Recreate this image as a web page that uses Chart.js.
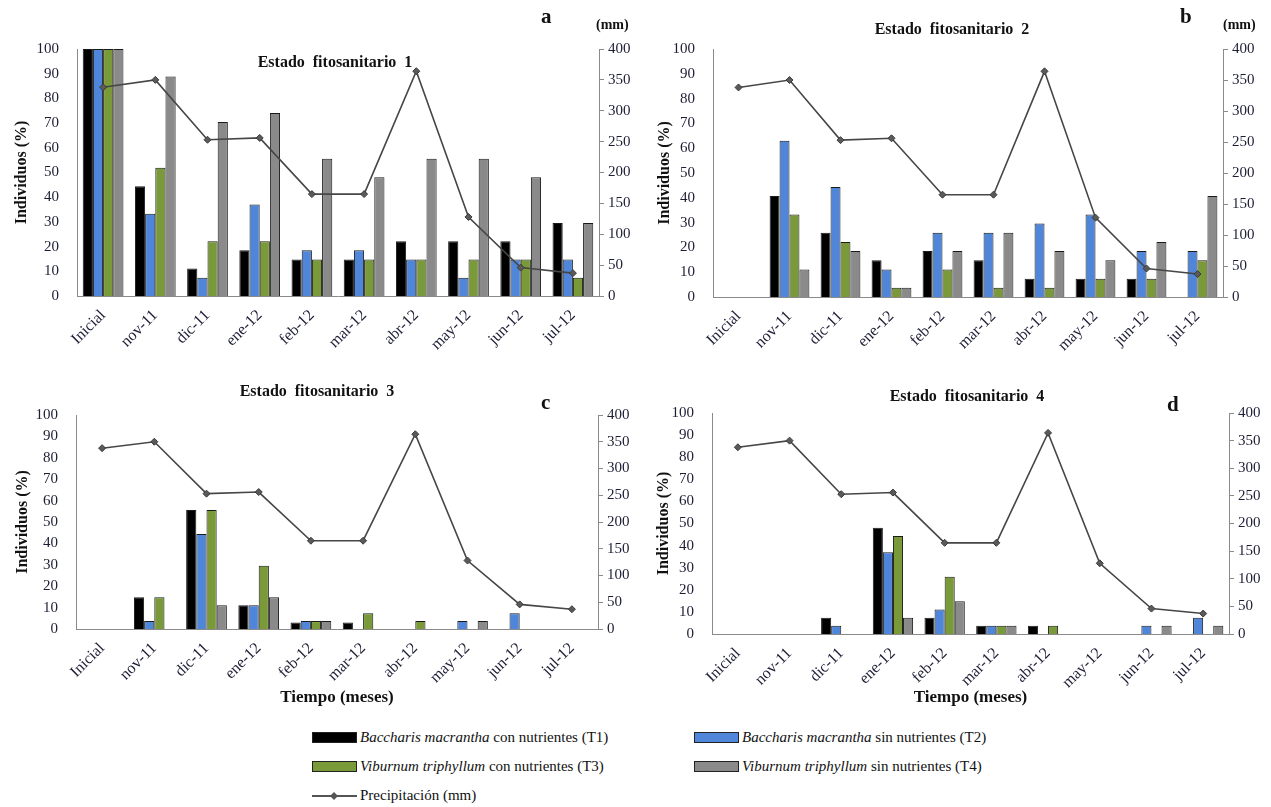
<!DOCTYPE html>
<html>
<head>
<meta charset="utf-8">
<title>Estado fitosanitario</title>
<script src="https://cdn.jsdelivr.net/npm/chart.js@4"></script>
<style>
  body { margin: 0; background: #fff; font-family: "Liberation Serif", "Times New Roman", serif; }
  #wrap { position: relative; width: 1271px; height: 807px; overflow: hidden; }
  .box { position: absolute; }
  .lbl { position: absolute; font-weight: bold; color: #111; white-space: pre; }
  .ttl { font-size: 16px; transform: translateX(-50%); }
  .let { font-size: 21px; }
  .mm  { font-size: 14px; }
  .leg { position: absolute; font-size: 15px; color: #111; white-space: nowrap; display: flex; align-items: center; }
  .sw  { width: 43px; height: 9px; border: 1px solid #222; margin-right: 3px; }
</style>
</head>
<body>
<div id="wrap">
  <div class="box" style="left:0;top:0;width:640px;height:370px"><canvas id="chartA"></canvas></div>
  <div class="box" style="left:640px;top:0;width:631px;height:370px"><canvas id="chartB"></canvas></div>
  <div class="box" style="left:0;top:375px;width:640px;height:337px"><canvas id="chartC"></canvas></div>
  <div class="box" style="left:640px;top:375px;width:631px;height:337px"><canvas id="chartD"></canvas></div>

  <div class="lbl ttl" style="left:335px;top:53px">Estado  fitosanitario  1</div>
  <div class="lbl ttl" style="left:952px;top:20px">Estado  fitosanitario  2</div>
  <div class="lbl ttl" style="left:317px;top:382px">Estado  fitosanitario  3</div>
  <div class="lbl ttl" style="left:967px;top:387px">Estado  fitosanitario  4</div>

  <div class="lbl let" style="left:541px;top:4px">a</div>
  <div class="lbl let" style="left:1180px;top:4px">b</div>
  <div class="lbl let" style="left:541px;top:390px">c</div>
  <div class="lbl let" style="left:1167px;top:392px">d</div>
  <div class="lbl mm" style="left:596px;top:17px">(mm)</div>
  <div class="lbl mm" style="left:1223px;top:17px">(mm)</div>

  <div class="leg" style="left:312px;top:729px"><span class="sw" style="background:#000"></span><i>Baccharis macrantha</i>&nbsp;con nutrientes (T1)</div>
  <div class="leg" style="left:694px;top:729px"><span class="sw" style="background:#4f86d9"></span><i>Baccharis macrantha</i>&nbsp;sin nutrientes (T2)</div>
  <div class="leg" style="left:312px;top:758px"><span class="sw" style="background:#7a9a3a"></span><i>Viburnum triphyllum</i>&nbsp;con nutrientes (T3)</div>
  <div class="leg" style="left:694px;top:758px"><span class="sw" style="background:#8a8a8a"></span><i>Viburnum triphyllum</i>&nbsp;sin nutrientes (T4)</div>
  <div class="leg" style="left:312px;top:787px">
    <svg width="45" height="12" style="margin-right:3px"><line x1="0" y1="6" x2="45" y2="6" stroke="#555" stroke-width="2"/><polygon points="22,2 26,6 22,10 18,6" fill="#555"/></svg>Precipitación (mm)
  </div>
</div>

<script>
// categorias (meses)
const MESES = ['Inicial', 'nov-11', 'dic-11', 'ene-12', 'feb-12', 'mar-12', 'abr-12', 'may-12', 'jun-12', 'jul-12'];

// precipitacion mensual (mm), igual en los 4 graficos
const PRECIP = [338, 350, 253, 256, 165, 165, 364, 128, 46, 37];

// Estado fitosanitario 1 (% individuos)
const A_T1 = [100, 44.4, 11.1, 18.5, 14.8, 14.8, 22.2, 22.2, 22.2, 29.6];
const A_T2 = [100, 33.3, 7.4, 37.0, 18.5, 18.5, 14.8, 7.4, 14.8, 14.8];
const A_T3 = [100, 51.9, 22.2, 22.2, 14.8, 14.8, 14.8, 14.8, 14.8, 7.4];
const A_T4 = [100, 88.9, 70.4, 74.1, 55.6, 48.1, 55.6, 55.6, 48.1, 29.6];

// Estado fitosanitario 2
const B_T1 = [0, 40.7, 25.9, 14.8, 18.5, 14.8, 7.4, 7.4, 7.4, 0];
const B_T2 = [0, 63.0, 44.4, 11.1, 25.9, 25.9, 29.6, 33.3, 18.5, 18.5];
const B_T3 = [0, 33.3, 22.2, 3.7, 11.1, 3.7, 3.7, 7.4, 7.4, 14.8];
const B_T4 = [0, 11.1, 18.5, 3.7, 18.5, 25.9, 18.5, 14.8, 22.2, 40.7];

// Estado fitosanitario 3
const C_T1 = [0, 14.8, 55.6, 11.1, 3.0, 3.0, 0, 0, 0, 0];
const C_T2 = [0, 3.7, 44.4, 11.1, 3.7, 0, 0, 3.7, 7.4, 0];
const C_T3 = [0, 14.8, 55.6, 29.6, 3.7, 7.4, 3.7, 0, 0, 0];
const C_T4 = [0, 0, 11.1, 14.8, 3.7, 0, 0, 3.7, 0, 0];

// Estado fitosanitario 4
const D_T1 = [0, 0, 7.4, 48.1, 7.4, 3.7, 3.7, 0, 0, 0];
const D_T2 = [0, 0, 3.7, 37.0, 11.1, 3.7, 0, 0, 3.7, 7.4];
const D_T3 = [0, 0, 0, 44.4, 25.9, 3.7, 3.7, 0, 0, 0];
const D_T4 = [0, 0, 0, 7.4, 14.8, 3.7, 0, 0, 3.7, 3.7];

const SERIF = "'Liberation Serif', 'Times New Roman', serif";
const TICK_COLOR = '#1d1d35';
const AXIS_COLOR = '#8a8a8a';

function barSet(data, color) {
    return {
        type: 'bar',
        data: data,
        backgroundColor: color,
        borderColor: '#1a1a1a',
        borderWidth: 1,
        barPercentage: 1.0,
        categoryPercentage: 0.78,
        yAxisID: 'y',
        order: 2
    };
}

// g = geometria del area de trazado dentro del canvas
function buildChart(id, t1, t2, t3, t4, g) {
    const ctx = document.getElementById(id).getContext('2d');
    return new Chart(ctx, {
        type: 'bar',
        data: {
            labels: MESES,
            datasets: [
                {
                    type: 'line',
                    data: PRECIP,
                    yAxisID: 'y1',
                    borderColor: '#464646',
                    borderWidth: 1.6,
                    pointStyle: 'rectRot',
                    pointRadius: 3.5,
                    pointBackgroundColor: '#5a5a5a',
                    pointBorderColor: '#3a3a3a',
                    pointBorderWidth: 1,
                    tension: 0,
                    order: 0
                },
                barSet(t1, '#000000'),
                barSet(t2, '#4f86d9'),
                barSet(t3, '#7a9a3a'),
                barSet(t4, '#8a8a8a')
            ]
        },
        options: {
            responsive: true,
            maintainAspectRatio: false,
            animation: false,
            layout: { padding: { top: g.top, left: 0, right: 0, bottom: 0 } },
            plugins: {
                legend: { display: false },
                tooltip: { enabled: false }
            },
            scales: {
                x: {
                    grid: { display: false },
                    border: { color: AXIS_COLOR, width: 1 },
                    ticks: {
                        autoSkip: false,
                        minRotation: 45,
                        maxRotation: 45,
                        padding: 2,
                        color: TICK_COLOR,
                        font: { family: SERIF, size: 16 }
                    },
                    title: {
                        display: g.xTitle,
                        text: 'Tiempo (meses)',
                        color: '#111',
                        font: { family: SERIF, size: 17, weight: 'bold' },
                        padding: { top: 0, bottom: 4 }
                    },
                    afterFit: function(scale) { scale.height = g.xh; }
                },
                y: {
                    position: 'left',
                    min: 0,
                    max: 100,
                    grid: { display: false },
                    border: { color: AXIS_COLOR, width: 1 },
                    ticks: {
                        stepSize: 10,
                        padding: 10,
                        color: TICK_COLOR,
                        font: { family: SERIF, size: 15 }
                    },
                    title: {
                        display: true,
                        text: 'Individuos (%)',
                        color: '#111',
                        font: { family: SERIF, size: 16, weight: 'bold' },
                        padding: { top: g.ytPad, bottom: 0 }
                    },
                    afterFit: function(scale) { scale.width = g.yw; }
                },
                y1: {
                    position: 'right',
                    min: 0,
                    max: 400,
                    grid: {
                        display: true,
                        drawOnChartArea: false,
                        drawTicks: true,
                        tickLength: 5,
                        color: AXIS_COLOR
                    },
                    border: { color: AXIS_COLOR, width: 1 },
                    ticks: {
                        stepSize: 50,
                        padding: 4,
                        color: TICK_COLOR,
                        font: { family: SERIF, size: 15 }
                    },
                    afterFit: function(scale) { scale.width = g.y1w; }
                }
            }
        }
    });
}

buildChart('chartA', A_T1, A_T2, A_T3, A_T4, { top: 49, xh: 74, yw: 77, y1w: 41, ytPad: 12, xTitle: false });
buildChart('chartB', B_T1, B_T2, B_T3, B_T4, { top: 49, xh: 73, yw: 73, y1w: 48, ytPad: 15, xTitle: false });
buildChart('chartC', C_T1, C_T2, C_T3, C_T4, { top: 40, xh: 83, yw: 76, y1w: 42, ytPad: 13, xTitle: true });
buildChart('chartD', D_T1, D_T2, D_T3, D_T4, { top: 38, xh: 78, yw: 72, y1w: 42, ytPad: 14, xTitle: true });
</script>
</body>
</html>
